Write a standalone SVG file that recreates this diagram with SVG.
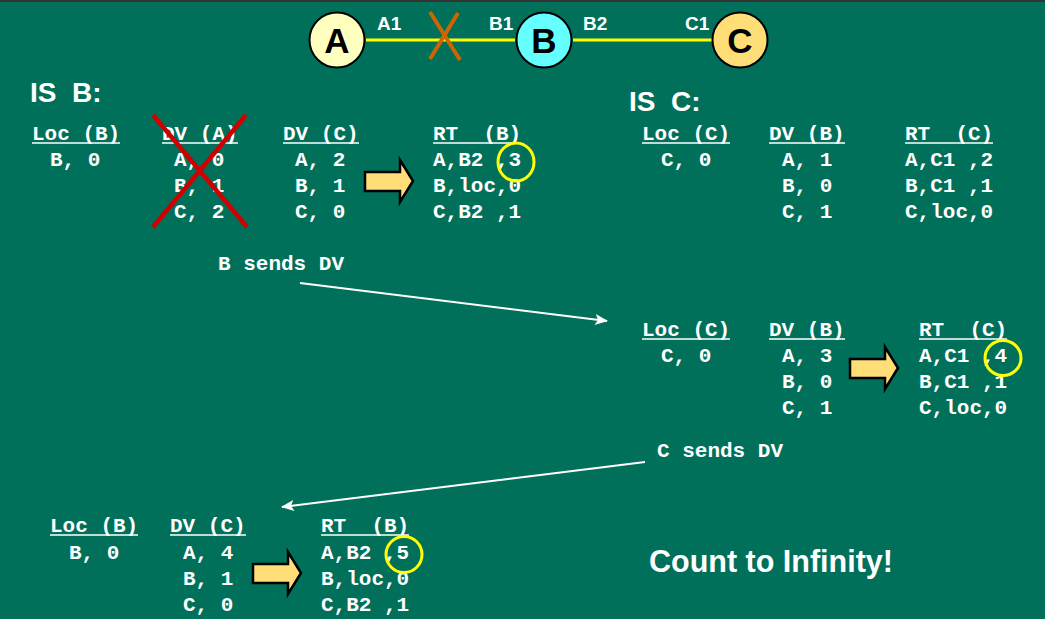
<svg xmlns="http://www.w3.org/2000/svg" width="1045" height="619" viewBox="0 0 1045 619">
<style>
.mono{font-family:"Liberation Mono","Courier New",monospace;font-weight:bold;font-size:21px;fill:#fff;white-space:pre}
.sans{font-family:"Liberation Sans",Arial,sans-serif;font-weight:bold;fill:#fff;white-space:pre}
.ul{stroke:#fff;stroke-width:1.5}
.node{stroke:#000;stroke-width:2}
.letter{font-family:"Liberation Sans",Arial,sans-serif;font-weight:bold;font-size:35px;fill:#000;text-anchor:middle}
.hl{fill:none;stroke:#ffff00;stroke-width:3}
.cross{stroke:#d00000;stroke-width:4.5}
.conn{stroke:#fff;stroke-width:2.2;fill:none}
.blk{fill:#ffdd77;stroke:#000;stroke-width:2.5;stroke-linejoin:miter}
</style>
<defs>
<marker id="ah" markerUnits="userSpaceOnUse" markerWidth="13" markerHeight="11" refX="12" refY="5.5" orient="auto">
<path d="M0,0 L13,5.5 L0,11 L3,5.5 Z" fill="#fff"/>
</marker>
<path id="blockarrow" d="M0,12 L35,12 L35,0 L48,21 L35,42 L35,31 L0,31 Z"/>
</defs>
<rect x="0" y="0" width="1045" height="619" fill="#00705a"/>
<rect x="0" y="0" width="1045" height="2" fill="#333"/>

<g id="links">
<line x1="366" y1="40" x2="515" y2="40" stroke="#ffff00" stroke-width="3"/>
<line x1="573" y1="40" x2="712" y2="40" stroke="#ffff00" stroke-width="3"/>
<line x1="430" y1="12" x2="460" y2="60" stroke="#cc6600" stroke-width="4"/>
<line x1="458" y1="13" x2="430" y2="59" stroke="#cc6600" stroke-width="4"/>
<text class="sans" x="377" y="30" font-size="19">A1</text>
<text class="sans" x="489" y="30" font-size="19">B1</text>
<text class="sans" x="583" y="30" font-size="19">B2</text>
<text class="sans" x="685" y="30" font-size="19">C1</text>
</g>

<g id="nodeA"><circle class="node" cx="337" cy="40" r="27.5" fill="#ffffc0"/><text class="letter" x="337" y="53">A</text></g>
<g id="nodeB"><circle class="node" cx="544" cy="40" r="27.5" fill="#66ffff"/><text class="letter" x="544" y="53">B</text></g>
<g id="nodeC"><circle class="node" cx="740" cy="40" r="27.5" fill="#ffdd77"/><text class="letter" x="740" y="53">C</text></g>

<g id="isB">
<text class="sans" x="30" y="102" font-size="28">IS  B:</text>
<text class="mono" x="32" y="140">Loc (B)</text><line class="ul" x1="32" y1="143" x2="120" y2="143"/>
<text class="mono" x="50" y="166">B, 0</text>
<text class="mono" x="162" y="140">DV (A)</text><line class="ul" x1="162" y1="143" x2="238" y2="143"/>
<text class="mono" x="174" y="166">A, 0</text>
<text class="mono" x="174" y="192">B, 1</text>
<text class="mono" x="174" y="218">C, 2</text>
<line class="cross" x1="153" y1="115" x2="247" y2="227"/>
<line class="cross" x1="246" y1="115" x2="153" y2="227"/>
<text class="mono" x="283" y="140">DV (C)</text><line class="ul" x1="283" y1="143" x2="359" y2="143"/>
<text class="mono" x="295" y="166">A, 2</text>
<text class="mono" x="295" y="192">B, 1</text>
<text class="mono" x="295" y="218">C, 0</text>
<use href="#blockarrow" class="blk" x="365" y="160"/>
<text class="mono" x="433" y="140">RT  (B)</text><line class="ul" x1="433" y1="143" x2="521" y2="143"/>
<text class="mono" x="433" y="166">A,B2 ,3</text>
<text class="mono" x="433" y="192">B,loc,0</text>
<text class="mono" x="433" y="218">C,B2 ,1</text>
<ellipse class="hl" cx="516" cy="162" rx="18" ry="19"/>
</g>

<g id="isC">
<text class="sans" x="629" y="111" font-size="28">IS  C:</text>
<text class="mono" x="642" y="140">Loc (C)</text><line class="ul" x1="642" y1="143" x2="730" y2="143"/>
<text class="mono" x="661" y="166">C, 0</text>
<text class="mono" x="769" y="140">DV (B)</text><line class="ul" x1="769" y1="143" x2="845" y2="143"/>
<text class="mono" x="782" y="166">A, 1</text>
<text class="mono" x="782" y="192">B, 0</text>
<text class="mono" x="782" y="218">C, 1</text>
<text class="mono" x="905" y="140">RT  (C)</text><line class="ul" x1="905" y1="143" x2="993" y2="143"/>
<text class="mono" x="905" y="166">A,C1 ,2</text>
<text class="mono" x="905" y="192">B,C1 ,1</text>
<text class="mono" x="905" y="218">C,loc,0</text>
</g>

<g id="stepC">
<text class="mono" x="642" y="336">Loc (C)</text><line class="ul" x1="642" y1="339" x2="730" y2="339"/>
<text class="mono" x="661" y="362">C, 0</text>
<text class="mono" x="769" y="336">DV (B)</text><line class="ul" x1="769" y1="339" x2="845" y2="339"/>
<text class="mono" x="782" y="362">A, 3</text>
<text class="mono" x="782" y="388">B, 0</text>
<text class="mono" x="782" y="414">C, 1</text>
<use href="#blockarrow" class="blk" x="850" y="347"/>
<text class="mono" x="919" y="336">RT  (C)</text><line class="ul" x1="919" y1="339" x2="1007" y2="339"/>
<text class="mono" x="919" y="362">A,C1 ,4</text>
<text class="mono" x="919" y="388">B,C1 ,1</text>
<text class="mono" x="919" y="414">C,loc,0</text>
<ellipse class="hl" cx="1003" cy="358" rx="18" ry="17.5"/>
</g>

<g id="stepB">
<text class="mono" x="50" y="532">Loc (B)</text><line class="ul" x1="50" y1="535" x2="138" y2="535"/>
<text class="mono" x="69" y="559">B, 0</text>
<text class="mono" x="170" y="532">DV (C)</text><line class="ul" x1="170" y1="535" x2="246" y2="535"/>
<text class="mono" x="183" y="559">A, 4</text>
<text class="mono" x="183" y="585">B, 1</text>
<text class="mono" x="183" y="611">C, 0</text>
<use href="#blockarrow" class="blk" x="253" y="552"/>
<text class="mono" x="321" y="532">RT  (B)</text><line class="ul" x1="321" y1="535" x2="409" y2="535"/>
<text class="mono" x="321" y="559">A,B2 ,5</text>
<text class="mono" x="321" y="585">B,loc,0</text>
<text class="mono" x="321" y="611">C,B2 ,1</text>
<ellipse class="hl" cx="404" cy="554.5" rx="18" ry="18"/>
</g>

<g id="connectors">
<text class="mono" x="218" y="270">B sends DV</text>
<line class="conn" x1="300" y1="283" x2="607" y2="321" marker-end="url(#ah)"/>
<text class="mono" x="657" y="457">C sends DV</text>
<line class="conn" x1="645" y1="462" x2="282" y2="507" marker-end="url(#ah)"/>
</g>

<text class="sans" x="649" y="572" font-size="30.5">Count to Infinity!</text>
</svg>
